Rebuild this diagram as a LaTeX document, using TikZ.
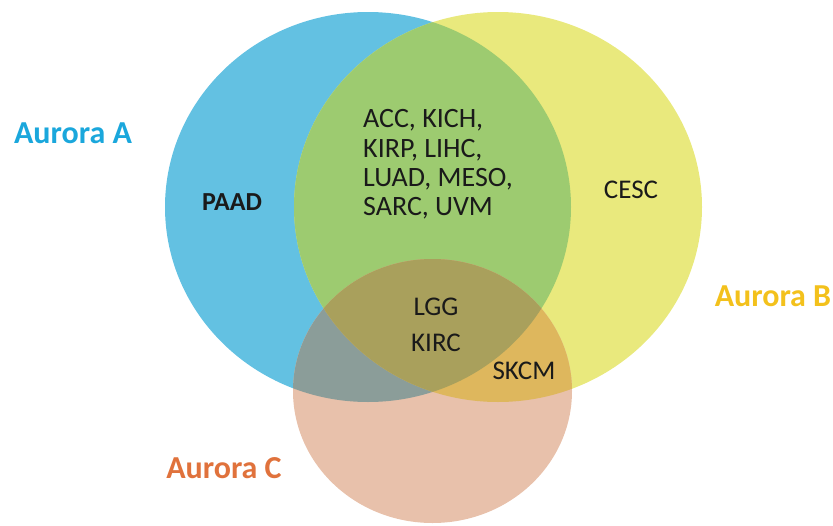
\documentclass[tikz,border=0pt]{standalone}
\usepackage{fontspec}
\setmainfont{Carlito}
\usetikzlibrary{positioning}

\definecolor{colA}{HTML}{63C1E2}
\definecolor{colB}{HTML}{E9E97D}
\definecolor{colC}{HTML}{E8C1AB}
\definecolor{colAB}{HTML}{9DCB70}
\definecolor{colAC}{HTML}{8B9D99}
\definecolor{colBC}{HTML}{DEB75D}
\definecolor{colABC}{HTML}{A9A05C}
\definecolor{auroraA}{HTML}{1AA7DC}
\definecolor{auroraB}{HTML}{F3C11C}
\definecolor{auroraC}{HTML}{E0723C}
\definecolor{ink}{HTML}{1A1A1A}

% the three sets
\def\setA{(368,207) ellipse [x radius=203pt, y radius=195pt]}
\def\setB{(498,207) ellipse [x radius=204pt, y radius=195pt]}
\def\setC{(432.5,391) ellipse [x radius=139.5pt, y radius=132pt]}

\tikzset{
  setname/.style={font=\fontsize{32}{36}\selectfont\bfseries, inner sep=0pt},
  tumour/.style={font=\fontsize{27}{29.3}\selectfont, text=ink, inner sep=0pt},
}

\begin{document}
\begin{tikzpicture}[x=1pt,y=-1pt]
      \useasboundingbox (0,0) rectangle (833,525);

      % plain sets
      \fill[colA] \setA;
      \fill[colB] \setB;

      % A and B
      \begin{scope}
        \clip \setA;
        \fill[colAB] \setB;
      \end{scope}

      \fill[colC] \setC;

      % C with A, C with B, and all three
      \begin{scope}
        \clip \setC;
        \fill[colAC] \setA;
        \fill[colBC] \setB;
        \clip \setA;
        \fill[colABC] \setB;
      \end{scope}

      % set names
      \node[setname, text=auroraA] (nameA) at (73,133) {Aurora A};
      \node[setname, text=auroraB] (nameB) at (773,296) {Aurora B};
      \node[setname, text=auroraC] (nameC) at (224,468) {Aurora C};

      % members of each region
      \node[tumour, font=\fontsize{26}{29.3}\selectfont\bfseries] (onlyA) at (232,202) {PAAD};
      \node[tumour] (onlyB) at (631,190) {CESC};
      \node[tumour, font=\fontsize{28}{29.3}\selectfont, anchor=north west, align=left] (sharedAB) at (363,109.5)
        {ACC, KICH,\\KIRP, LIHC,\\LUAD, MESO,\\SARC, UVM};
      \node[tumour] (lgg) at (436,307) {LGG};
      \node[tumour] (kirc) at (436,343) {KIRC};
      \node[tumour] (sharedBC) at (524,371) {SKCM};
    \end{tikzpicture}
\end{document}
